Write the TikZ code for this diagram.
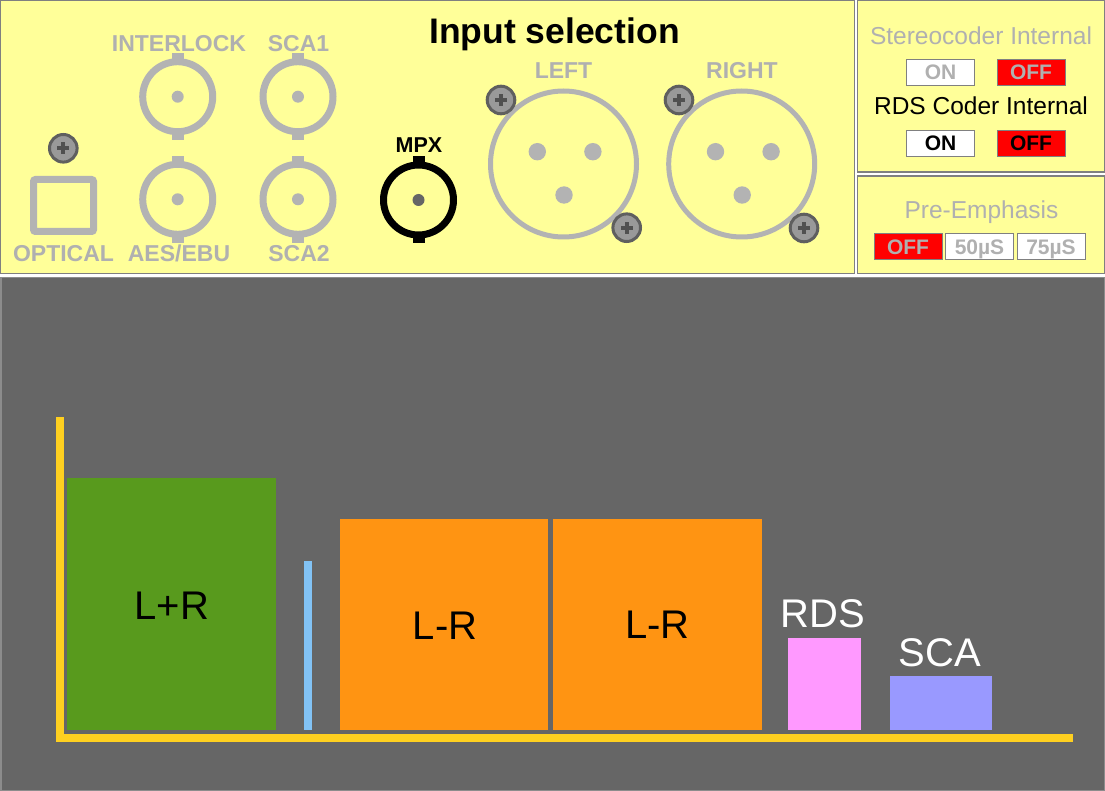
\documentclass[tikz,border=0pt]{standalone}
\usepackage{fontspec}
\setmainfont{Liberation Sans}
\definecolor{panelyellow}{HTML}{FFFF99}
\definecolor{panelborder}{HTML}{808080}
\definecolor{conngray}{HTML}{B3B3B3}
\definecolor{textgray}{HTML}{B0B0B0}
\definecolor{screwfill}{HTML}{999999}
\definecolor{screwedge}{HTML}{5F5F5F}
\definecolor{screwplus}{HTML}{505050}
\definecolor{chartbg}{HTML}{666666}
\definecolor{chartedge}{HTML}{8C8C8C}
\definecolor{axisyellow}{HTML}{FFD020}
\definecolor{lrgreen}{HTML}{589A1D}
\definecolor{lrorange}{HTML}{FF9412}
\definecolor{pilotblue}{HTML}{82C3F5}
\definecolor{rdspink}{HTML}{FF99FF}
\definecolor{scablue}{HTML}{9999FF}
\newcommand\fs[1]{\fontsize{#1}{#1}\selectfont}
\newcommand\bncconn[4]{%
  \draw[#3, line width=7] (#1,#2) circle[radius=35];
  \fill[#3] (#1-6,#2-43.5) rectangle (#1+6,#2-36);
  \fill[#3] (#1-6,#2+36) rectangle (#1+6,#2+43.5);
  \fill[#4] (#1,#2) circle[radius=6];}
\newcommand\screwhead[2]{%
  \draw[screwedge, fill=screwfill, line width=3] (#1,#2) circle[radius=13.8];
  \fill[screwplus] (#1-6,#2-2.1) rectangle (#1+6,#2+2.1);
  \fill[screwplus] (#1-2.1,#2-6) rectangle (#1+2.1,#2+6);}
\newcommand\xlrconn[2]{%
  \draw[conngray, line width=5] (#1,#2) circle[radius=73];
  \fill[conngray] (#1-26.2,#2-12.3) circle[radius=8.7];
  \fill[conngray] (#1+29.4,#2-12.3) circle[radius=8.7];
  \fill[conngray] (#1+0.5,#2+31) circle[radius=8.7];}
\begin{document}
\begin{tikzpicture}[x=1pt,y=-1pt,
  panel/.style={fill=panelyellow, draw=panelborder, line width=1.2},
  conlabel/.style={inner sep=0pt, anchor=base, font=\fs{23}\bfseries, text=textgray},
  headlabel/.style={inner sep=0pt, anchor=base, font=\fs{24.5}},
  swbox/.style={draw=panelborder, line width=1, minimum width=68, minimum height=26, inner sep=0pt,
    font=\fs{21}\bfseries, text height=15, text depth=0},
  barlabel/.style={inner sep=0pt, anchor=base, font=\fs{40}}]
\useasboundingbox (0,0) rectangle (1105,791);
\fill[white] (0,0) rectangle (1105,791);
% panels
\draw[panel] (0.6,0.6) rectangle (854.5,273.4);
\draw[panel] (857.5,0.6) rectangle (1104.4,172);
\draw[panel] (857.5,176) rectangle (1104.4,273.4);
\draw[fill=chartbg, draw=chartedge, line width=1.5] (0.75,277.5) rectangle (1104.25,790.25);
% input selection panel
\node[inner sep=0pt, anchor=base, font=\fs{35.5}\bfseries] (title) at (554.5,44) {Input selection};
\node[conlabel] (interlock) at (179,51.7) {INTERLOCK};
\node[conlabel] (sca1) at (298.5,51.7) {SCA1};
\node[conlabel] (optical) at (63.5,262) {OPTICAL};
\node[conlabel] (aesebu) at (179,262) {AES/EBU};
\node[conlabel] (sca2) at (299,262) {SCA2};
\node[conlabel, text=black, font=\fs{21.5}\bfseries] (mpx) at (419,153) {MPX};
\node[conlabel] (left) at (563.5,79) {LEFT};
\node[conlabel] (right) at (742,79) {RIGHT};
\bncconn{177.7}{96.7}{conngray}{conngray}
\bncconn{298}{96.7}{conngray}{conngray}
\bncconn{177.7}{199.3}{conngray}{conngray}
\bncconn{298}{199.3}{conngray}{conngray}
\bncconn{418.5}{200}{black}{chartbg}
\draw[conngray, line width=7, rounded corners=2] (33.5,179.5) rectangle (93.5,231.5);
\screwhead{63.3}{148.3}
\xlrconn{563.5}{164}
\xlrconn{741.7}{164}
\screwhead{501}{100}
\screwhead{626.7}{227.7}
\screwhead{679}{100}
\screwhead{804}{228}
% right panels
\node[headlabel, text=textgray] (stereo) at (981,45) {Stereocoder Internal};
\node[swbox, fill=white, text=textgray] (stereoon) at (940.5,72.3) {ON};
\node[swbox, fill=red, text=textgray] (stereooff) at (1031,72.3) {OFF};
\node[headlabel] (rdscoder) at (981,115) {RDS Coder Internal};
\node[swbox, fill=white] (rdson) at (940.5,143.3) {ON};
\node[swbox, fill=red] (rdsoff) at (1031,143.3) {OFF};
\node[headlabel, text=textgray] (preemph) at (981.5,218.3) {Pre-Emphasis};
\node[swbox, fill=red, text=textgray] (peoff) at (908,247) {OFF};
\node[swbox, fill=white, text=textgray] (pe50) at (979.5,247) {50µS};
\node[swbox, fill=white, text=textgray] (pe75) at (1051,247) {75µS};
% spectrum chart
\fill[axisyellow] (56,417) rectangle (64,742);
\fill[axisyellow] (56,734) rectangle (1073,742);
\fill[lrgreen] (67,478) rectangle (276,730);
\fill[pilotblue] (304,561) rectangle (312,730);
\fill[lrorange] (340,519) rectangle (547.5,730);
\fill[lrorange] (553,519) rectangle (762,730);
\fill[rdspink] (788,638) rectangle (861,730);
\fill[scablue] (890,676) rectangle (992,730);
\node[barlabel] (lpr) at (172,619) {L+R};
\node[barlabel] (lmr1) at (445,639) {L-R};
\node[barlabel] (lmr2) at (657.5,638) {L-R};
\node[barlabel, text=white] (rds) at (822.5,627) {RDS};
\node[barlabel, text=white] (sca) at (940,666) {SCA};
\end{tikzpicture}
\end{document}
